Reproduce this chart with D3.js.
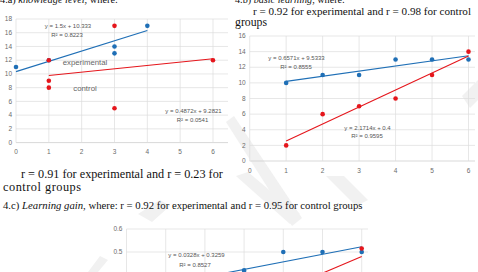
<!DOCTYPE html>
<html>
<head>
<meta charset="utf-8">
<script src="https://cdn.jsdelivr.net/npm/d3@7"></script>
<style>
html, body { margin: 0; padding: 0; background: #fff; overflow: hidden; }
</style>
</head>
<body>
<div id="chart"></div>
<script>
// 4.a knowledge level
const knowTicksX = [0, 1, 2, 3, 4, 5, 6];
const knowTicksY = [0, 2, 4, 6, 8, 10, 12, 14, 16, 18];
const knowExpX = [0, 1, 3, 3, 4];
const knowExpY = [11, 12, 14, 13, 17];
const knowCtrlX = [1, 1, 1, 3, 3, 6];
const knowCtrlY = [12, 9, 8, 17, 5, 12];
const knowExpFit = [1.5, 10.333, 0, 4];      // slope, intercept, from, to
const knowCtrlFit = [0.4872, 9.2821, 1, 6];
const knowEqs = ['y = 1.5x + 10.333', 'R² = 0.8223', 'y = 0.4872x + 9.2821', 'R² = 0.0541'];
const knowNames = ['experimental', 'control'];

// 4.b basic learning
const basicTicksX = [0, 1, 2, 3, 4, 5, 6];
const basicTicksY = [0, 2, 4, 6, 8, 10, 12, 14, 16];
const basicX = [1, 2, 3, 4, 5, 6];
const basicExpY = [10, 11, 11, 13, 13, 13];
const basicCtrlY = [2, 6, 7, 8, 11, 14];
const basicExpFit = [0.6571, 9.5333, 1, 6];
const basicCtrlFit = [2.1714, 0.4, 1, 6];
const basicEqs = ['y = 0.6571x + 9.5333', 'R² = 0.8555', 'y = 2.1714x + 0.4', 'R² = 0.9595'];

// 4.c learning gain
const gainTicksX = [0, 1, 2, 3, 4, 5, 6];
const gainTicksY = [0, 0.1, 0.2, 0.3, 0.4, 0.5, 0.6];
const gainExpX = [3, 4, 5, 6];
const gainExpY = [0.42, 0.5, 0.5, 0.5];
const gainCtrlX = [6];
const gainCtrlY = [0.515];
const gainExpFit = [0.0328, 0.3259, 1, 6];
const gainCtrlFit = [0.072, 0.048, 1, 6];
const gainEqs = ['y = 0.0328x + 0.3259', 'R² = 0.8527'];

const blue = '#1f6fb6';
const red = '#e5161c';
const grid = '#dcdcdc';
const tickGrey = '#6b6b6b';
const H = 272;

const svg = d3.select('#chart').append('svg')
    .attr('width', 478).attr('height', H)
    .style('display', 'block');
svg.append('rect').attr('width', 478).attr('height', H).attr('fill', '#fff');

// faint watermark bands
const marks = [
    [[226, 122], [234, 116], [302, 218], [292, 226]],
    [[236, 176], [248, 172], [300, 216], [290, 224]],
    [[326, 176], [344, 176], [368, 200], [356, 206]],
    [[138, 214], [160, 200], [170, 206], [152, 222]],
    [[268, 200], [286, 200], [300, 214], [288, 220]],
    [[88, 272], [100, 256], [108, 260], [98, 272]],
    [[462, 96], [478, 80], [478, 100], [470, 108]]
];
svg.append('g').selectAll('polygon').data(marks).join('polygon')
    .attr('points', d => d.map(p => p.join(',')).join(' '))
    .attr('fill', '#f1f1f1');

function drawChart(cfg) {
    const x = d3.scaleLinear().domain([0, 6]).range(cfg.xr);
    const y = d3.scaleLinear().domain(cfg.yd).range(cfg.yr);
    const g = svg.append('g');
    const top = y(cfg.yd[1]);
    const bottom = y(0);

    g.append('g').selectAll('line').data(cfg.ty).join('line')
        .attr('x1', x(0)).attr('x2', cfg.right)
        .attr('y1', d => y(d)).attr('y2', d => y(d))
        .attr('stroke', d => d === 0 ? '#c8c8c8' : grid).attr('stroke-width', 0.7);
    g.append('g').selectAll('line').data(cfg.tx).join('line')
        .attr('x1', d => x(d)).attr('x2', d => x(d))
        .attr('y1', top).attr('y2', bottom)
        .attr('stroke', grid).attr('stroke-width', 0.7);

    // only labels that fall inside the page are written
    g.append('g').selectAll('text').data(cfg.ty.filter(d => y(d) + 3 < H)).join('text')
        .attr('x', x(0) - 4).attr('y', d => y(d) + 2.2)
        .attr('text-anchor', 'end')
        .attr('font-family', 'Liberation Sans, Arial, sans-serif')
        .attr('font-size', 6.5).attr('fill', tickGrey)
        .text(d => cfg.fmt ? d3.format('.1f')(d) : d);
    g.append('g').selectAll('text').data(cfg.tx.filter(() => bottom + 12 < H)).join('text')
        .attr('x', d => x(d)).attr('y', bottom + 11.8)
        .attr('text-anchor', 'middle')
        .attr('font-family', 'Liberation Sans, Arial, sans-serif')
        .attr('font-size', 6.5).attr('fill', tickGrey)
        .text(d => d);

    cfg.fits.forEach(f => {
        g.append('path')
            .attr('d', d3.line().x(d => x(d[0])).y(d => y(d[1]))([
                [f.fit[2], f.fit[0] * f.fit[2] + f.fit[1]],
                [f.fit[3], f.fit[0] * f.fit[3] + f.fit[1]]
            ]))
            .attr('stroke', f.color).attr('stroke-width', 1.1).attr('fill', 'none');
    });
    cfg.series.forEach(s => {
        g.append('g').selectAll('circle').data(s.xs).join('circle')
            .attr('cx', d => x(d)).attr('cy', (d, i) => y(s.ys[i]))
            .attr('r', 2.3).attr('fill', s.color);
    });
    cfg.labels.forEach(l => {
        g.append('text')
            .attr('x', l.x).attr('y', l.y)
            .attr('text-anchor', 'middle')
            .attr('font-family', 'Liberation Sans, Arial, sans-serif')
            .attr('font-size', l.size || 6).attr('fill', l.color || '#555')
            .text(l.text);
    });
}

drawChart({
    xr: [16, 213], yd: [0, 18], yr: [142.6, 19], right: 228,
    tx: knowTicksX, ty: knowTicksY,
    fits: [{ fit: knowExpFit, color: blue }, { fit: knowCtrlFit, color: red }],
    series: [{ xs: knowExpX, ys: knowExpY, color: blue }, { xs: knowCtrlX, ys: knowCtrlY, color: red }],
    labels: [
        { text: knowEqs[0], x: 68, y: 28 },
        { text: knowEqs[1], x: 67, y: 36.5 },
        { text: knowEqs[2], x: 193.5, y: 112.5 },
        { text: knowEqs[3], x: 192.5, y: 121.5 },
        { text: knowNames[0], x: 85, y: 65, size: 7.8, color: '#666' },
        { text: knowNames[1], x: 85, y: 91, size: 7.8, color: '#666' }
    ]
});

drawChart({
    xr: [249.7, 468.5], yd: [0, 16], yr: [161, 36], right: 475,
    tx: basicTicksX, ty: basicTicksY,
    fits: [{ fit: basicExpFit, color: blue }, { fit: basicCtrlFit, color: red }],
    series: [{ xs: basicX, ys: basicExpY, color: blue }, { xs: basicX, ys: basicCtrlY, color: red }],
    labels: [
        { text: basicEqs[0], x: 296.5, y: 60 },
        { text: basicEqs[1], x: 296, y: 68.5 },
        { text: basicEqs[2], x: 367.5, y: 129.5 },
        { text: basicEqs[3], x: 367, y: 138 }
    ]
});

drawChart({
    xr: [126.5, 361.7], yd: [0, 0.6], yr: [367, 229], right: 368, fmt: true,
    tx: gainTicksX, ty: gainTicksY,
    fits: [{ fit: gainExpFit, color: blue }, { fit: gainCtrlFit, color: red }],
    series: [{ xs: gainExpX, ys: gainExpY, color: blue }, { xs: gainCtrlX, ys: gainCtrlY, color: red }],
    labels: [
        { text: gainEqs[0], x: 196.5, y: 256.7 },
        { text: gainEqs[1], x: 195, y: 266.5 }
    ]
});

// body text of the page
const serif = 'Liberation Serif, Times New Roman, serif';
const baseSize = 12.3;
function para(parts, x, y, len, justify) {
    const t = svg.append('text')
        .attr('x', x).attr('y', y)
        .attr('font-family', serif).attr('font-size', baseSize).attr('fill', '#111');
    parts.forEach(p => {
        t.append('tspan').attr('font-style', p[1] ? 'italic' : null).text(p[0]);
    });
    const natural = t.node().getComputedTextLength();
    if (natural > len) {
        t.attr('font-size', baseSize * len / natural);
    } else if (justify) {
        const gaps = t.text().split(' ').length - 1;
        t.attr('word-spacing', (len - natural) / gaps);
    } else {
        t.attr('textLength', len).attr('lengthAdjust', 'spacing');
    }
}
para([['4.a) '], ['knowledge level', true], [', where:']], 0, 2.5, 118);
para([['4.b) '], ['basic learning', true], [', where:']], 235, 2.5, 110);
para([['r = 0.92 for experimental and r = 0.98 for control']], 253, 15, 218);
para([['groups']], 235, 26, 32);
para([['r = 0.91 for experimental and r = 0.23 for']], 21, 178, 202, true);
para([['control groups']], 3, 191, 78);
para([['4.c) '], ['Learning gain', true], [', where:  r = 0.92 for experimental and r = 0.95 for control groups']], 3, 208.5, 360);
</script>
</body>
</html>
